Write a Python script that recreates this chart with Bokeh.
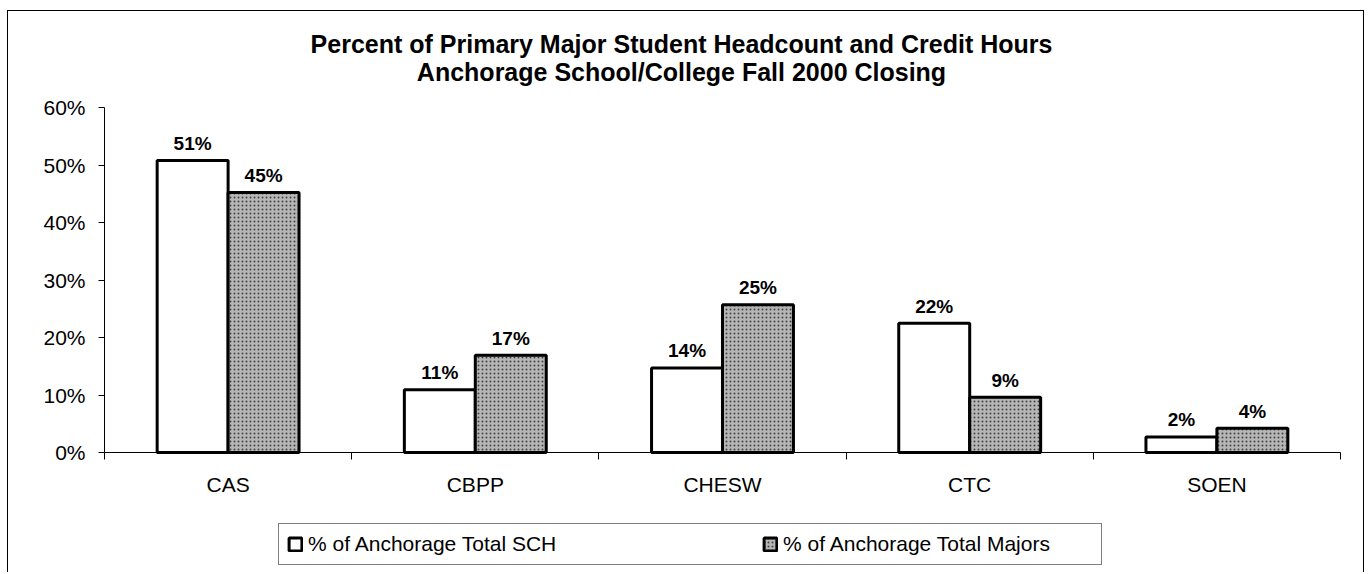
import numpy as np
from bokeh.plotting import figure
from bokeh.models import (ColumnDataSource, Range1d, FixedTicker, PrintfTickFormatter,
                          Label, Legend, LegendItem)
from bokeh.core.properties import value
from bokeh.embed import file_html
from bokeh.resources import INLINE

# ---- data ----
categories = ["CAS", "CBPP", "CHESW", "CTC", "SOEN"]
sch_pct = [50.8, 10.9, 14.7, 22.5, 2.7]          # % of Anchorage Total SCH
majors_pct = [45.2, 16.9, 25.7, 9.6, 4.2]        # % of Anchorage Total Majors
sch_labels = ["51%", "11%", "14%", "22%", "2%"]
majors_labels = ["45%", "17%", "25%", "9%", "4%"]
y_ticks = [0, 10, 20, 30, 40, 50, 60]
title_lines = ["Percent of Primary Major Student Headcount and Credit Hours",
               "Anchorage School/College Fall 2000 Closing"]
series_names = ["% of Anchorage Total SCH", "% of Anchorage Total Majors"]

FONT = "Liberation Sans"
bar_w = 0.287
n = len(categories)
y_max = y_ticks[-1]

# ---- layout (pixels inside the chart box) ----
W, H = 1357, 562
ax_left, ax_right = 96, 1332      # plot area left/right, px from box left
ax_top, ax_bottom = 96, 441       # plot area top/bottom, px from box top
px_per_x = (ax_right - ax_left) / n
px_per_y = (ax_bottom - ax_top) / y_max
x_rng = Range1d(-ax_left / px_per_x, n + (W - ax_right) / px_per_x)
y_rng = Range1d(-(H - ax_bottom) / px_per_y, y_max + ax_top / px_per_y)

centers = np.arange(n) + 0.5
src = ColumnDataSource(dict(
    cat=categories,
    xw=centers - bar_w / 2,
    xg=centers + bar_w / 2,
    sch=sch_pct, maj=majors_pct,
    sl=sch_labels, ml=majors_labels,
))

p = figure(width=W, height=H, output_backend="svg", toolbar_location=None,
           x_range=x_rng, y_range=y_rng,
           min_border=0, min_border_left=0, min_border_right=0,
           min_border_top=0, min_border_bottom=0)
p.styles = {"border-left": "1px solid black", "border-top": "1px solid black",
            "border-right": "1px solid black", "margin-left": "7px", "margin-top": "10px"}
p.outline_line_color = None
p.grid.visible = False
p.background_fill_color = "white"
p.border_fill_color = "white"

# y axis
ya = p.yaxis[0]
ya.fixed_location = 0
ya.bounds = (0, y_max)
ya.ticker = FixedTicker(ticks=y_ticks, minor_ticks=[])
ya.formatter = PrintfTickFormatter(format="%d%%")
ya.axis_line_color = "black"
ya.major_tick_line_color = "black"
ya.major_tick_out = 6
ya.major_tick_in = 0
ya.minor_tick_line_color = None
ya.major_label_standoff = 13
ya.major_label_text_font = FONT
ya.major_label_text_font_size = "21px"
ya.major_label_text_color = "black"

# x axis
xa = p.xaxis[0]
xa.fixed_location = 0
xa.bounds = (0, n)
xa.ticker = FixedTicker(ticks=list(centers), minor_ticks=list(range(n + 1)))
xa.major_label_overrides = {float(c): cat for c, cat in zip(centers, categories)}
xa.axis_line_color = "black"
xa.major_tick_line_color = None
xa.major_tick_out = 0
xa.major_tick_in = 0
xa.minor_tick_line_color = "black"
xa.minor_tick_out = 7
xa.minor_tick_in = 0
xa.major_label_standoff = 13
xa.major_label_text_font = FONT
xa.major_label_text_font_size = "21px"
xa.major_label_text_color = "black"

r1 = p.vbar(x="xw", top="sch", width=bar_w, source=src, fill_color="white",
            line_color="black", line_width=3)
r2 = p.vbar(x="xg", top="maj", width=bar_w, source=src, fill_color="#b6b6b6",
            hatch_pattern=".", hatch_color="#444444", hatch_scale=4, hatch_weight=1,
            line_color="black", line_width=3)

for xcol, ycol, tcol in (("xw", "sch", "sl"), ("xg", "maj", "ml")):
    p.text(x=xcol, y=ycol, text=tcol, source=src, text_align="center",
           text_baseline="alphabetic", y_offset=-17, text_font=value(FONT),
           text_font_style="bold", text_font_size="19px", text_color="black")

# title lines (screen px from the chart box's bottom-left)
for txt, yy in zip(title_lines, (H - 32, H - 60)):
    p.add_layout(Label(x=673, y=yy, x_units="screen", y_units="screen", text=txt,
                       text_align="center", text_baseline="alphabetic",
                       text_font=FONT, text_font_style="bold",
                       text_font_size="25px", text_color="black"))

legend = Legend(items=[LegendItem(label=series_names[0], renderers=[r1]),
                       LegendItem(label=series_names[1], renderers=[r2])],
                orientation="horizontal", location=(270, 8),
                padding=8, spacing=144, glyph_width=16, glyph_height=16,
                label_standoff=5, label_width=310, label_height=20,
                label_text_font=FONT, label_text_font_size="21px",
                label_text_color="black", border_line_color="black",
                border_line_width=1, background_fill_color="white",
                background_fill_alpha=1, margin=0)
p.add_layout(legend, "center")

open("out.html", "w").write(file_html(p, INLINE))
